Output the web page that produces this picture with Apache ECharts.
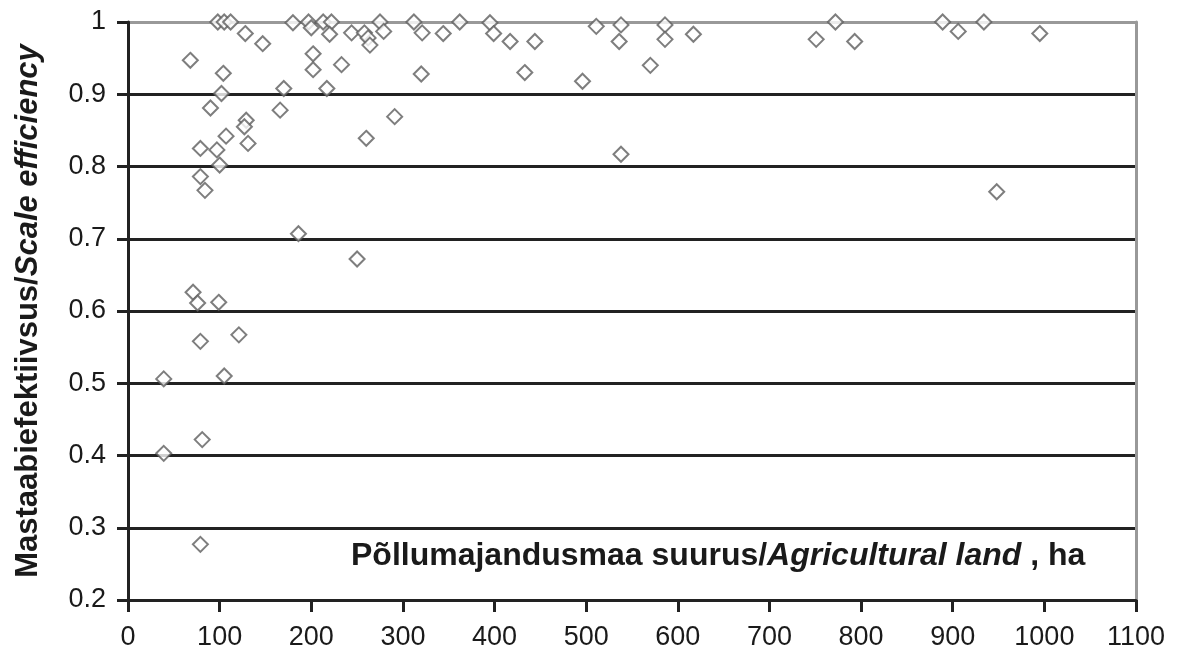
<!DOCTYPE html>
<html>
<head>
<meta charset="utf-8">
<script src="https://cdn.jsdelivr.net/npm/echarts@6/dist/echarts.min.js"></script>
<style>html,body{margin:0;padding:0;background:#fff}#c{width:1182px;height:659px}</style>
</head>
<body>
<div id="c"></div>
<script>
// Agricultural land, ha
const landHa = [98,105,112,68,128,147,104,102,90,180,197,200,213,222,220,202,202,233,217,170,166,
  244,258,262,264,275,279,312,321,320,291,260,129,127,131,107,79,97,100,79,84,186,250,71,76,99,79,121,
  39,105,81,39,79,344,362,395,399,417,444,433,496,511,538,536,570,586,586,617,538,751,772,793,889,906,934,995,948];
// Scale efficiency
const scaleEff = [1.0,1.0,1.0,0.947,0.984,0.970,0.929,0.901,0.881,0.999,1.0,0.992,1.0,1.0,0.983,0.956,0.934,0.941,0.908,0.908,0.878,
  0.985,0.985,0.978,0.968,1.0,0.987,1.0,0.985,0.928,0.869,0.839,0.864,0.855,0.832,0.842,0.825,0.823,0.802,0.786,0.767,0.707,0.672,0.626,0.611,0.612,0.558,0.567,
  0.506,0.510,0.422,0.403,0.277,0.984,1.0,0.999,0.984,0.973,0.973,0.930,0.918,0.994,0.996,0.973,0.940,0.996,0.976,0.983,0.817,0.976,1.0,0.973,1.0,0.987,1.0,0.984,0.765];
const xAxisRange = [0, 1100, 100];
const yAxisRange = [0.2, 1, 0.1];
const xTitle = ['Põllumajandusmaa suurus/', 'Agricultural land', ' , ha'];
const yTitle = ['Mastaabiefektiivsus/', 'Scale efficiency'];

const FONT = "'Liberation Sans', Arial, sans-serif";
const points = landHa.map((x, i) => [x, scaleEff[i]]);
const chart = echarts.init(document.getElementById('c'), null, {renderer: 'canvas'});
chart.setOption({
  animation: false,
  backgroundColor: '#fff',
  title: {
    text: '{a|' + xTitle[0] + '}{b|' + xTitle[1] + '}{a|' + xTitle[2] + '}',
    left: 346, top: 535,
    textStyle: {
      rich: {
        a: {fontFamily: FONT, fontWeight: 'bold', fontSize: 32, color: '#1a1a1a'},
        b: {fontFamily: FONT, fontWeight: 'bold', fontStyle: 'italic', fontSize: 32, color: '#1a1a1a'}
      }
    }
  },
  grid: {left: 128, right: 46, top: 22, bottom: 59, containLabel: false},
  xAxis: [{
    type: 'value', min: xAxisRange[0], max: xAxisRange[1], interval: xAxisRange[2],
    axisLine: {show: true, onZero: false, lineStyle: {color: '#222', width: 3}},
    axisTick: {show: true, length: 12, inside: false, lineStyle: {color: '#222', width: 3}},
    axisLabel: {margin: 24, fontFamily: FONT, fontSize: 27, color: '#1a1a1a', formatter: v => String(v)},
    splitLine: {show: false}
  }],
  yAxis: [{
    type: 'value', min: yAxisRange[0], max: yAxisRange[1], interval: yAxisRange[2],
    axisLine: {show: true, onZero: false, lineStyle: {color: '#222', width: 3}},
    axisTick: {show: true, length: 11, lineStyle: {color: '#222', width: 3}},
    axisLabel: {margin: 22, fontFamily: FONT, fontSize: 27, color: '#1a1a1a',
      formatter: v => String(Math.round(v * 10) / 10)},
    splitLine: {show: true, lineStyle: {color: ['#222','#222','#222','#222','#222','#222','#222','#222','#999'], width: 3}},
    name: '{a|' + yTitle[0] + '}{b|' + yTitle[1] + '}',
    nameLocation: 'middle', nameRotate: 90, nameGap: 84,
    nameTextStyle: {
      rich: {
        a: {fontFamily: FONT, fontWeight: 'bold', fontSize: 31, color: '#1a1a1a'},
        b: {fontFamily: FONT, fontWeight: 'bold', fontStyle: 'italic', fontSize: 31, color: '#1a1a1a'}
      }
    }
  }, {
    type: 'value', position: 'right', min: yAxisRange[0], max: yAxisRange[1], interval: yAxisRange[2],
    axisLine: {show: true, onZero: false, lineStyle: {color: '#999', width: 3}},
    axisTick: {show: false}, axisLabel: {show: false}, splitLine: {show: false}
  }],
  series: [{
    type: 'scatter',
    data: points,
    symbol: 'diamond',
    symbolSize: 15,
    itemStyle: {color: '#fff', borderColor: '#5e5e5e', borderWidth: 2},
    z: 5
  }]
});
</script>
</body>
</html>
